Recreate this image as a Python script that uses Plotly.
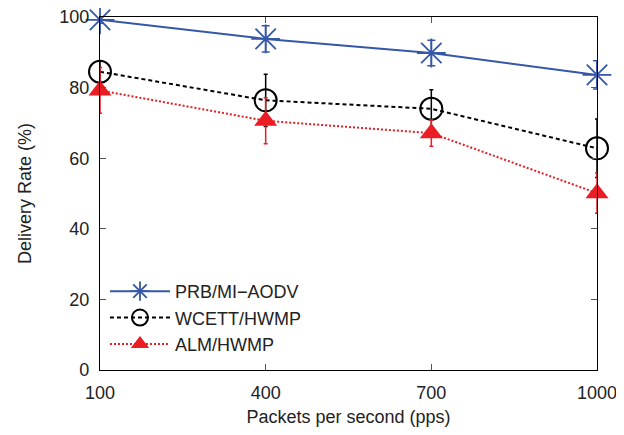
import plotly.graph_objects as go

x_vals = [100, 400, 700, 1000]
prb = [99.2, 93.8, 89.8, 83.6]
prb_err = [1.0, 3.7, 3.6, 4.0]
wcett = [84.5, 76.4, 74.0, 62.8]
wcett_err = [3.0, 7.4, 5.4, 8.3]
alm = [79.2, 70.6, 67.1, 50.1]
alm_err = [6.5, 6.5, 3.7, 5.7]
x_ticks = [100, 400, 700, 1000]
y_ticks = [0, 20, 40, 60, 80, 100]

BLUE = "#3457a8"
RED = "#ea1c24"

fig = go.Figure()
fig.add_trace(go.Scatter(
    x=x_vals, y=prb, name="PRB/MI\u2212AODV", mode="lines+markers",
    line=dict(color=BLUE, width=2),
    marker=dict(symbol="asterisk-open", size=24, line=dict(color=BLUE, width=1.8)),
    error_y=dict(type="data", array=prb_err, color=BLUE, thickness=1.5, width=4),
    cliponaxis=False))
fig.add_trace(go.Scatter(
    x=x_vals, y=wcett, name="WCETT/HWMP", mode="lines+markers",
    line=dict(color="black", width=2, dash="4px,3px"),
    marker=dict(symbol="circle-open", size=22, color="black", line=dict(color="black", width=2)),
    error_y=dict(type="data", array=wcett_err, color="black", thickness=1.5, width=2),
    cliponaxis=False))
fig.add_trace(go.Scatter(
    x=x_vals, y=alm, name="ALM/HWMP", mode="lines+markers",
    line=dict(color=RED, width=2, dash="2px,2px"),
    marker=dict(symbol="triangle-up", size=20, color=RED),
    error_y=dict(type="data", array=alm_err, color=RED, thickness=1.5, width=2),
    cliponaxis=False))

axis_common = dict(showline=True, linecolor="black", linewidth=1.2, mirror="ticks",
                   ticks="inside", ticklen=6, tickcolor="#555555", showgrid=False,
                   zeroline=False, automargin=False, ticklabelstandoff=6,
                   ticklabeloverflow="allow",
                   tickfont=dict(size=18, color="#222222"))

fig.update_layout(
    width=616, height=419,
    margin=dict(l=92, r=27, t=9, b=57),
    paper_bgcolor="white", plot_bgcolor="white",
    font=dict(family="Liberation Sans, Arial, sans-serif", size=17, color="#222222"),
    showlegend=True,
    legend=dict(x=0.01, y=0.02, xanchor="left", yanchor="bottom",
                bgcolor="rgba(0,0,0,0)", font=dict(size=18), tracegroupgap=0,
                itemwidth=60),
    xaxis=dict(range=[100, 1000], tickvals=x_ticks, ticktext=[str(t) for t in x_ticks],
               title=dict(text="Packets per second (pps)", font=dict(size=18), standoff=8),
               **axis_common),
    yaxis=dict(range=[0, 100], tickvals=y_ticks, ticktext=[str(t) for t in y_ticks],
               title=dict(text="Delivery Rate (%)", font=dict(size=18), standoff=22),
               **axis_common),
)

fig.write_html("out.html")
